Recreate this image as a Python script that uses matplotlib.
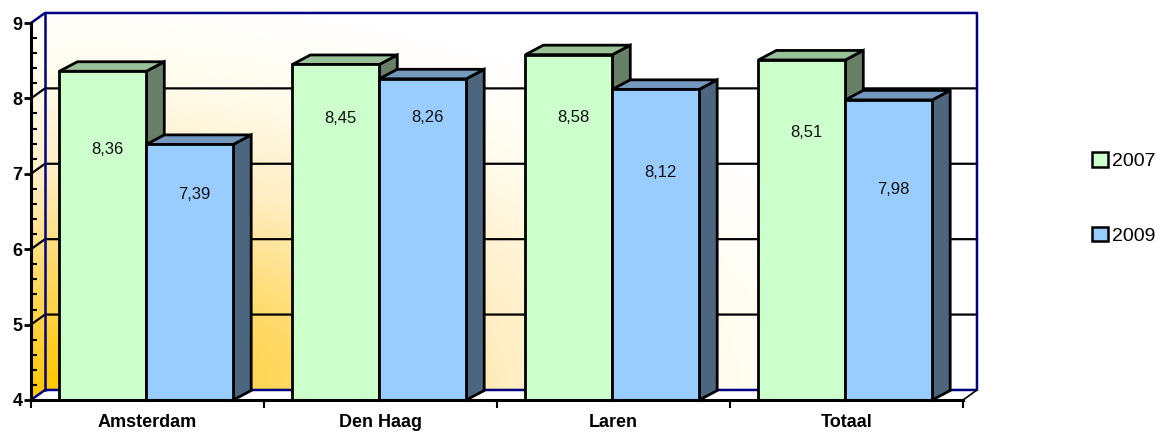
import numpy as np
import matplotlib
matplotlib.use('Agg')
import matplotlib.pyplot as plt
from matplotlib.patches import Polygon, Patch
from matplotlib.colors import LinearSegmentedColormap

plt.rcParams['font.family'] = ['Liberation Sans', 'DejaVu Sans']

# --- data ---
categories = ['Amsterdam', 'Den Haag', 'Laren', 'Totaal']
series_names = ['2007', '2009']
values_2007 = [8.36, 8.45, 8.58, 8.51]
values_2009 = [7.39, 8.26, 8.12, 7.98]

# where excel put the value labels (drop below bar top)
label_drop_2007 = [1.04, 0.71, 0.83, 0.96]
label_drop_2009 = [0.67, 0.51, 1.10, 1.19]

# colours: front, top, side
colors = {
    '2007': ('#CCFFCC', '#99C299', '#667F66'),
    '2009': ('#99CCFF', '#7399BF', '#4C6680'),
}

Y_MIN, Y_MAX = 4, 9
BAR_W = 0.373
BAR_DX, BAR_DY = 0.077, 0.126    # bar depth (data units)
WALL_DX, WALL_DY = 0.060, 0.133  # wall depth (data units)
NAVY = '#000080'

fig = plt.figure(figsize=(11.68, 4.34), dpi=100)
ax = fig.add_axes([31 / 1168, 34 / 434, 932 / 1168, 377 / 434])
n = len(categories)
ax.set_xlim(0, n)
ax.set_ylim(Y_MIN, Y_MAX)
ax.set_facecolor('none')

# --- back wall gradient (gold bottom-left -> white) ---
gx = np.linspace(0, 1, 300)
gy = np.linspace(0, 1, 120)
GX, GY = np.meshgrid(gx, gy)
t = np.clip(np.sqrt((1.1 * GX) ** 2 + (0.95 * GY) ** 2), 0, 1)
cmap = LinearSegmentedColormap.from_list(
    'wall', [(0, '#FFC800'), (0.3, '#FFD966'), (0.55, '#FFEEC4'), (0.8, '#FFFCEE'), (1, '#FFFFFF')])
ax.imshow(t, cmap=cmap, vmin=0, vmax=1, origin='lower', aspect='auto',
          extent=[WALL_DX, n + WALL_DX, Y_MIN + WALL_DY, Y_MAX + WALL_DY],
          clip_on=False, zorder=0, interpolation='bilinear')

# side wall
side_t = np.clip(0.95 * gy, 0, 1)
side_img = ax.imshow(side_t[:, None], cmap=cmap, vmin=0, vmax=1, origin='lower', aspect='auto',
                     extent=[0, WALL_DX, Y_MIN, Y_MAX + WALL_DY], zorder=0, interpolation='bilinear')
side_poly = Polygon([(0, Y_MIN), (WALL_DX, Y_MIN + WALL_DY), (WALL_DX, Y_MAX + WALL_DY), (0, Y_MAX)],
                    closed=True, facecolor='none', edgecolor='none', transform=ax.transData)
ax.add_patch(side_poly)
side_img.set_clip_path(side_poly)

# floor
ax.add_patch(Polygon([(0, Y_MIN), (n, Y_MIN), (n + WALL_DX, Y_MIN + WALL_DY), (WALL_DX, Y_MIN + WALL_DY)],
                     closed=True, facecolor='white', edgecolor='none', zorder=1, clip_on=False))

# grid lines on back + side wall
for yv in range(Y_MIN + 1, Y_MAX):
    ax.plot([0, WALL_DX, n + WALL_DX], [yv, yv + WALL_DY, yv + WALL_DY],
            color='black', lw=1.6, zorder=1, clip_on=False)

# navy frame of the walls
ax.plot([0, WALL_DX, n + WALL_DX, n + WALL_DX, WALL_DX, 0],
        [Y_MAX, Y_MAX + WALL_DY, Y_MAX + WALL_DY, Y_MIN + WALL_DY, Y_MIN + WALL_DY, Y_MIN],
        color=NAVY, lw=1.8, zorder=1, clip_on=False)
ax.plot([WALL_DX, WALL_DX], [Y_MIN + WALL_DY, Y_MAX + WALL_DY], color=NAVY, lw=1.8, zorder=1, clip_on=False)
ax.plot([n, n + WALL_DX], [Y_MIN, Y_MIN + WALL_DY], color='black', lw=1.2, zorder=1, clip_on=False)


def draw_bar(x0, val, front, top, side, z):
    x1 = x0 + BAR_W
    kw = dict(closed=True, edgecolor='black', lw=2, zorder=z, clip_on=False, joinstyle='miter')
    ax.add_patch(Polygon([(x1, Y_MIN), (x1 + BAR_DX, Y_MIN + BAR_DY), (x1 + BAR_DX, val + BAR_DY), (x1, val)],
                         facecolor=side, **kw))
    ax.add_patch(Polygon([(x0, val), (x1, val), (x1 + BAR_DX, val + BAR_DY), (x0 + BAR_DX, val + BAR_DY)],
                         facecolor=top, **kw))
    ax.add_patch(Polygon([(x0, Y_MIN), (x1, Y_MIN), (x1, val), (x0, val)], facecolor=front, **kw))


all_vals = [values_2007, values_2009]
all_drops = [label_drop_2007, label_drop_2009]
for i in range(n):
    center = i + 0.495
    for j, name in enumerate(series_names):
        x0 = center - BAR_W + j * BAR_W
        front, top, side = colors[name]
        draw_bar(x0, all_vals[j][i], front, top, side, 3 + j)
        lbl = f'{all_vals[j][i]:.2f}'.replace('.', ',')
        ax.text(x0 + BAR_W / 2 + 0.02, all_vals[j][i] - all_drops[j][i], lbl,
                ha='center', va='center', fontsize=12, color='#111111', zorder=10)

# --- axes ---
for s in ['top', 'right']:
    ax.spines[s].set_visible(False)
for s in ['left', 'bottom']:
    ax.spines[s].set_linewidth(2.2)
    ax.spines[s].set_zorder(8)

ax.set_yticks(range(Y_MIN, Y_MAX + 1))
ax.set_yticks(np.arange(Y_MIN, Y_MAX, 0.2), minor=True)
ax.tick_params(axis='y', which='major', direction='out', length=5, width=2, labelsize=13, pad=1)
ax.tick_params(axis='y', which='minor', direction='in', length=4, width=1.5)
for lab in ax.get_yticklabels():
    lab.set_fontweight('bold')

ax.set_xticks(range(0, n + 1))
ax.set_xticklabels([])
ax.set_xticks(np.arange(n) + 0.5, minor=True)
ax.set_xticklabels(categories, minor=True, fontsize=13, fontweight='bold')
ax.tick_params(axis='x', which='major', direction='out', length=6, width=1.5)
ax.tick_params(axis='x', which='minor', length=0, pad=10)

# legend
handles = [Patch(facecolor=colors[s][0], edgecolor='black', lw=1.8) for s in series_names]
fig.legend(handles, series_names, loc='upper left', bbox_to_anchor=(1092 / 1168, 1 - 152 / 434),
           frameon=False, fontsize=14, handlelength=0.8, handleheight=0.8, handletextpad=0.25,
           labelspacing=2.9, borderpad=0, borderaxespad=0)

fig.savefig('out.png', dpi=100)
